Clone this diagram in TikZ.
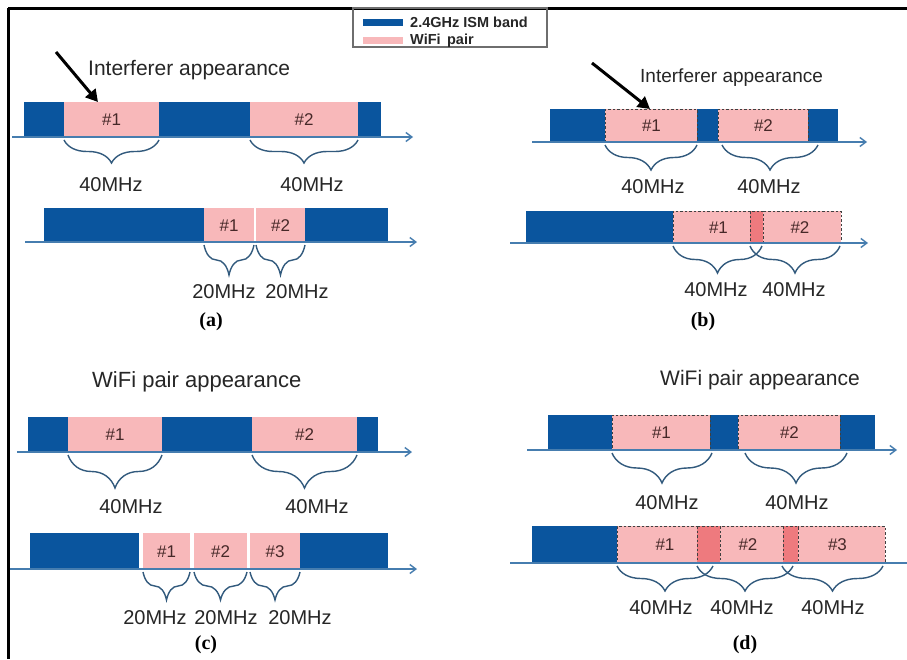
\documentclass[tikz,border=0pt]{standalone}
\usepackage{fontspec}
\setmainfont{Liberation Sans}
\newfontfamily\capfont{Liberation Serif}
\usetikzlibrary{arrows.meta,decorations.pathreplacing}
\definecolor{ismblue}{RGB}{10,85,158}
\definecolor{wifipink}{RGB}{248,184,186}
\definecolor{overlappink}{RGB}{238,122,126}
\definecolor{axisblue}{RGB}{70,125,175}
\definecolor{bracecol}{RGB}{50,90,125}
\definecolor{hashtext}{RGB}{70,40,40}
\definecolor{legendgray}{RGB}{110,110,110}

\begin{document}
\begin{tikzpicture}[x=1pt,y=-1pt,
  band/.style={fill=ismblue,draw=none},
  pair/.style={fill=wifipink,draw=none,anchor=north west,inner sep=0,
    font=\fontsize{17}{20}\selectfont,text=hashtext},
  dpair/.style={pair,draw=black!75,dash pattern=on 2.5pt off 2pt,line width=0.9pt},
  ovl/.style={fill=overlappink,draw=black!75,dash pattern=on 2.5pt off 2pt,line width=0.9pt},
  axis/.style={draw=axisblue,line width=1.4pt,-{Straight Barb[length=6pt,width=9pt]}},
  brc/.style={draw=bracecol,line width=1.4pt,decorate,
    decoration={brace,mirror,amplitude=#1,aspect=0.5}},
  lbl/.style={font=\fontsize{20}{23}\selectfont,text=black!85,inner sep=0},
  headline/.style={font=\fontsize{21}{24}\selectfont,text=black!85,inner sep=0,anchor=west},
  capstyle/.style={font=\capfont\bfseries\fontsize{20}{24}\selectfont,inner sep=0},
  pointer/.style={draw=black,line width=3pt,-{Triangle[length=12pt,width=13pt]}},
  legtext/.style={font=\bfseries\fontsize{14.5}{16}\selectfont,text=black!85,inner sep=0,anchor=west}
]
\useasboundingbox (0,0) rectangle (907,659);
\fill[white] (0,0) rectangle (907,659);

% frame
\draw[line width=3pt] (8,8) -- (907,8);
\draw[line width=3pt] (8,8) -- (8,659);

% legend
\draw[legendgray,line width=1.2pt] (353,8) rectangle (547,47);
\fill[ismblue] (363,19) rectangle (403,26);
\fill[wifipink] (363,37) rectangle (403,44);
\node[legtext] (legband) at (410,22) {2.4GHz ISM band};
\node[legtext] (legpair) at (410,41) {WiFi\, pair};

% ---------------- (a) ----------------
\fill[band] (24,102) rectangle (64,137);
\fill[band] (159,102) rectangle (250,137);
\fill[band] (358,102) rectangle (381,137);
\node[pair,minimum width=95,minimum height=35] (a1) at (64,102) {\#1};
\node[pair,minimum width=108,minimum height=35] (a2) at (250,102) {\#2};
\draw[axis] (12,137) -- (413,137);
\draw[brc=23] (64,140) -- (159,140);
\draw[brc=23] (250,140) -- (358,140);
\node[lbl] (a1f) at (111,185) {40MHz};
\node[lbl] (a2f) at (312,185) {40MHz};
\node[headline] (ahead) at (88,70) {Interferer appearance};
\coordinate (atail) at (56,52);
\draw[pointer] (atail) -- ([xshift=34]a1.north west);

\fill[band] (44,208) rectangle (204,242);
\fill[band] (305,208) rectangle (388,242);
\node[pair,minimum width=50,minimum height=34] (a3) at (204,208) {\#1};
\node[pair,minimum width=49,minimum height=34] (a4) at (256,208) {\#2};
\draw[axis] (25,242) -- (417,242);
\draw[brc=30] (204,245) -- (254,245);
\draw[brc=30] (256,245) -- (305,245);
\node[lbl] (a3f) at (224,292) {20MHz};
\node[lbl] (a4f) at (297,292) {20MHz};
\node[capstyle] (capa) at (211,322) {(a)};

% ---------------- (b) ----------------
\fill[band] (550,109) rectangle (605,142);
\fill[band] (693,109) rectangle (718,142);
\fill[band] (808,109) rectangle (838,142);
\node[dpair,minimum width=92,minimum height=33] (b1) at (605,109) {\#1};
\node[dpair,minimum width=90,minimum height=33] (b2) at (718,109) {\#2};
\draw[axis] (532,142) -- (867,142);
\draw[brc=25] (605,145) -- (697,145);
\draw[brc=25] (722,145) -- (818,145);
\node[lbl] (b1f) at (653,187) {40MHz};
\node[lbl] (b2f) at (769,187) {40MHz};
\node[headline,font=\fontsize{19}{22}\selectfont] (bhead) at (640,78) {Interferer appearance};
\coordinate (btail) at (592,63);
\draw[pointer] (btail) -- ([xshift=45]b1.north west);

\fill[band] (526,211) rectangle (673,243);
\node[dpair,minimum width=90,minimum height=32] (b3) at (673,211) {\#1};
\node[dpair,minimum width=91,minimum height=32] (b4) at (750,211) {\hspace*{8pt}\#2};
\fill[ovl] (750,211) rectangle (763,243);
\draw[axis] (510,243) -- (868,243);
\draw[brc=27] (673,246) -- (762,246);
\draw[brc=27] (750,246) -- (840,246);
\node[lbl] (b3f) at (716,290) {40MHz};
\node[lbl] (b4f) at (794,290) {40MHz};
\node[capstyle] (capb) at (703,322) {(b)};

% ---------------- (c) ----------------
\node[headline,font=\fontsize{22}{25}\selectfont] (chead) at (92,382) {WiFi pair appearance};
\fill[band] (28,417) rectangle (68,452);
\fill[band] (162,417) rectangle (252,452);
\fill[band] (357,417) rectangle (378,452);
\node[pair,minimum width=94,minimum height=35] (c1) at (68,417) {\#1};
\node[pair,minimum width=105,minimum height=35] (c2) at (252,417) {\#2};
\draw[axis] (17,452) -- (412,452);
\draw[brc=33] (68,455) -- (162,455);
\draw[brc=33] (252,455) -- (357,455);
\node[lbl] (c1f) at (131,507) {40MHz};
\node[lbl] (c2f) at (317,507) {40MHz};

\fill[band] (30,533) rectangle (139,569);
\fill[band] (300,533) rectangle (388,569);
\node[pair,minimum width=47,minimum height=36] (c3) at (143,533) {\#1};
\node[pair,minimum width=53,minimum height=36] (c4) at (194,533) {\#2};
\node[pair,minimum width=50,minimum height=36] (c5) at (250,533) {\#3};
\draw[axis] (10,569) -- (417,569);
\draw[brc=28] (143,572) -- (190,572);
\draw[brc=28] (194,572) -- (247,572);
\draw[brc=28] (250,572) -- (300,572);
\node[lbl] (c3f) at (155,618) {20MHz};
\node[lbl] (c4f) at (226,618) {20MHz};
\node[lbl] (c5f) at (300,618) {20MHz};
\node[capstyle] (capc) at (206,645) {(c)};

% ---------------- (d) ----------------
\node[headline] (dhead) at (660,380) {WiFi pair appearance};
\fill[band] (548,415) rectangle (612,450);
\fill[band] (710,415) rectangle (738,450);
\fill[band] (840,415) rectangle (875,450);
\node[dpair,minimum width=98,minimum height=35] (d1) at (612,415) {\#1};
\node[dpair,minimum width=102,minimum height=35] (d2) at (738,415) {\#2};
\draw[axis] (527,450) -- (897,450);
\draw[brc=30] (612,453) -- (712,453);
\draw[brc=30] (745,453) -- (847,453);
\node[lbl] (d1f) at (667,503) {40MHz};
\node[lbl] (d2f) at (797,503) {40MHz};

\fill[band] (532,526) rectangle (617,563);
\node[dpair,minimum width=103,minimum height=37] (d3) at (617,526) {\#1\hspace*{8pt}};
\node[dpair,minimum width=101,minimum height=37] (d4) at (697,526) {\#2};
\node[dpair,minimum width=102,minimum height=37] (d5) at (783,526) {\hspace*{6pt}\#3};
\fill[ovl] (697,526) rectangle (720,563);
\fill[ovl] (783,526) rectangle (798,563);
\draw[draw=axisblue,line width=1.4pt] (510,563) -- (907,563);
\draw[brc=25] (617,566) -- (713,566);
\draw[brc=25] (697,566) -- (793,566);
\draw[brc=25] (782,566) -- (883,566);
\node[lbl] (d3f) at (661,608) {40MHz};
\node[lbl] (d4f) at (742,608) {40MHz};
\node[lbl] (d5f) at (833,608) {40MHz};
\node[capstyle] (capd) at (745,645) {(d)};
\end{tikzpicture}
\end{document}
